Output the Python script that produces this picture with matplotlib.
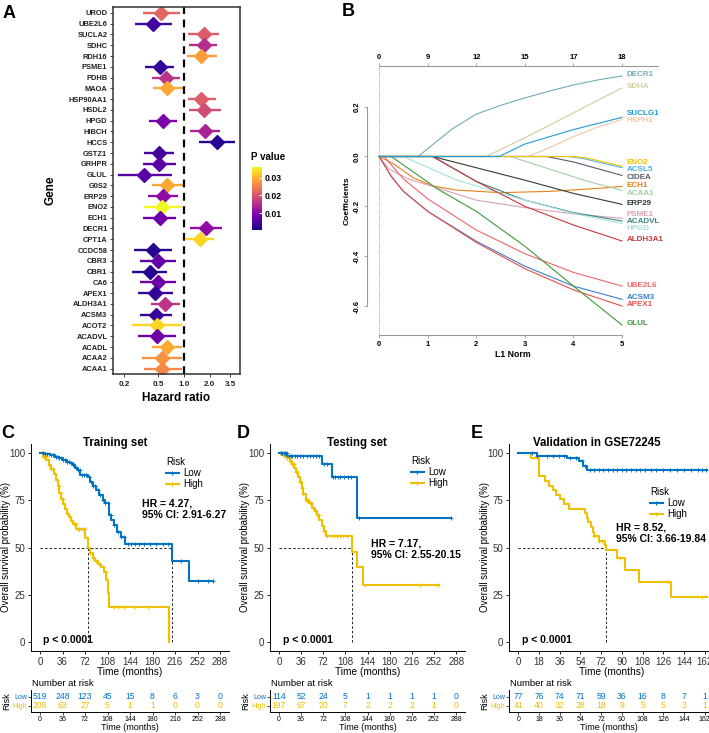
import numpy as np
import matplotlib
matplotlib.use("Agg")
import matplotlib.pyplot as plt
from matplotlib import cm, colors
from matplotlib.lines import Line2D

plt.rcParams['font.family'] = ['Liberation Sans', 'DejaVu Sans']

W, H = 709, 733

# ---------------- panel A: univariate cox (forest plot) ----------------
genes = ['UROD', 'UBE2L6', 'SUCLA2', 'SDHC', 'RDH16', 'PSME1', 'PDHB', 'MAOA',
         'HSP90AA1', 'HSDL2', 'HPGD', 'HIBCH', 'HCCS', 'GSTZ1', 'GRHPR', 'GLUL',
         'G0S2', 'ERP29', 'ENO2', 'ECH1', 'DECR1', 'CPT1A', 'CCDC58', 'CBR3',
         'CBR1', 'CA6', 'APEX1', 'ALDH3A1', 'ACSM3', 'ACOT2', 'ACADVL', 'ACADL',
         'ACAA2', 'ACAA1']
hr = [0.54, 0.44, 1.70, 1.70, 1.58, 0.52, 0.61, 0.64, 1.61, 1.73, 0.57, 1.76,
      2.44, 0.51, 0.51, 0.345, 0.63, 0.57, 0.56, 0.52, 1.80, 1.53, 0.43, 0.50,
      0.40, 0.50, 0.46, 0.60, 0.47, 0.49, 0.49, 0.63, 0.55, 0.56]
hr_lo = [0.33, 0.27, 1.12, 1.15, 1.08, 0.35, 0.42, 0.44, 1.11, 1.14, 0.39, 1.18,
         1.51, 0.34, 0.33, 0.168, 0.42, 0.38, 0.34, 0.33, 1.18, 1.05, 0.26, 0.31,
         0.25, 0.31, 0.29, 0.41, 0.31, 0.25, 0.29, 0.42, 0.32, 0.34]
hr_hi = [0.90, 0.72, 2.55, 2.46, 2.42, 0.76, 0.90, 0.965, 2.37, 2.70, 0.83, 2.64,
         3.94, 0.76, 0.81, 0.73, 0.965, 0.86, 0.955, 0.82, 2.77, 2.23, 0.72, 0.81,
         0.64, 0.80, 0.74, 0.89, 0.72, 0.94, 0.82, 0.95, 0.94, 0.94]
pval = [0.022, 0.004, 0.021, 0.015, 0.028, 0.003, 0.016, 0.029, 0.021, 0.019,
        0.009, 0.014, 0.002, 0.004, 0.006, 0.006, 0.029, 0.011, 0.036, 0.008,
        0.011, 0.033, 0.002, 0.007, 0.002, 0.008, 0.003, 0.016, 0.003, 0.033,
        0.008, 0.029, 0.027, 0.026]
hr_ticks = [0.2, 0.5, 1.0, 2.0, 3.5]
p_ticks = [0.01, 0.02, 0.03]

# ---------------- panel B: lasso coefficient paths ----------------
lasso_genes = ['DECR1', 'SDHA', 'HSPH1', 'ACSL5', 'CIDEA', 'ECH1', 'ACAA1',
               'ERP29', 'PSME1', 'ACADVL', 'HPGD', 'ALDH3A1', 'UBE2L6', 'ACSM3',
               'APEX1', 'GLUL', 'ENO2', 'SUCLG1']
lasso_l1 = [
    [0, 0.8, 1.5, 2, 2.5, 3, 3.5, 4, 4.5, 5],
    [0, 2.2, 3, 4, 5],
    [0, 3.07, 3.5, 4, 4.5, 5],
    [0, 3.9, 4.2, 5],
    [0, 3.45, 4, 5],
    [0, 0.3, 0.7, 1.1, 1.6, 2.5, 3.5, 4.5, 5],
    [0, 2.7, 3.5, 4.3, 5],
    [0, 1.1, 2, 3, 4, 5],
    [0, 0.2, 0.6, 1.1, 2, 3, 4, 5],
    [0, 1.1, 2, 3, 4, 5],
    [0, 0.5, 1.6, 3, 4, 5],
    [0, 1.1, 2, 3, 4, 5],
    [0, 0.1, 0.5, 1, 2, 3, 4, 5],
    [0, 0.25, 0.5, 1, 2, 3, 4, 5],
    [0, 0.25, 0.5, 1, 2, 3, 4, 5],
    [0, 0.25, 1.2, 2, 3, 4, 5],
    [0, 4.0, 4.25, 5],
    [0, 2.47, 3, 4, 5],
]
lasso_coef = [
    [0, 0, 0.11, 0.17, 0.205, 0.235, 0.262, 0.287, 0.307, 0.323],
    [0, 0, 0.075, 0.175, 0.275],
    [0, 0, 0.035, 0.08, 0.118, 0.149],
    [0, 0, -0.008, -0.045],
    [0, 0, -0.022, -0.076],
    [0, -0.03, -0.085, -0.118, -0.135, -0.145, -0.14, -0.128, -0.12],
    [0, 0, -0.05, -0.1, -0.136],
    [0, 0, -0.045, -0.095, -0.148, -0.192],
    [0, -0.05, -0.09, -0.12, -0.175, -0.205, -0.23, -0.248],
    [0, 0, -0.1, -0.175, -0.225, -0.259],
    [0, 0, -0.095, -0.175, -0.228, -0.269],
    [0, 0, -0.1, -0.2, -0.275, -0.339],
    [0, 0, -0.09, -0.17, -0.295, -0.39, -0.465, -0.52],
    [0, -0.08, -0.14, -0.22, -0.34, -0.44, -0.52, -0.573],
    [0, -0.08, -0.14, -0.22, -0.345, -0.45, -0.535, -0.60],
    [0, 0, -0.13, -0.22, -0.36, -0.52, -0.676],
    [0, 0, -0.005, -0.039],
    [0, 0, 0.05, 0.108, 0.157],
]
lasso_colors = ['#72adbb', '#d2cb9e', '#f6c6a4', '#47b3e0', '#5a5a68', '#e8801a',
                '#a3cfa3', '#2f3f2f', '#d9a0b0', '#3f8585', '#a6dfe0', '#c8383c',
                '#f0646c', '#3c7fd0', '#e8504a', '#3f9a3a', '#f6c000', '#1f9bd1']
# label heights (coefficient units) as printed at the right margin
lasso_label_y = [0.328, 0.282, 0.144, -0.052, -0.084, -0.116, -0.15, -0.188,
                 -0.232, -0.26, -0.288, -0.332, -0.516, -0.566, -0.594, -0.668,
                 -0.024, 0.172]
df_labels = ['0', '9', '12', '15', '17', '18']

# ---------------- panels C-E: Kaplan-Meier ----------------
LOW, HIGH = '#0073C2', '#EFC000'

c_low_t = [0, 8, 16, 24, 30, 37, 43, 48, 52, 56, 60, 64.5, 76, 80.5, 85, 90, 95, 100,
           104, 110, 114, 118, 123, 129, 136, 210.6, 238, 276.7]
c_low_s = [100, 99.6, 99.1, 98.3, 97.3, 96.5, 95.6, 94.7, 93.8, 92.5, 91.2, 88.5, 87.3,
           85.0, 82.5, 80.5, 78.0, 75.2, 73.8, 67.3, 64.5, 62.0, 58.4, 55.4, 51.9,
           42.8, 32.4, 32.4]
c_high_t = [0, 5, 10, 14, 18, 22, 25, 28, 31, 34, 37, 40, 43, 46, 49, 52, 58, 72.5, 76,
            80, 84, 88, 93, 97, 103, 106, 108.5, 110, 206.9]
c_high_s = [100, 98, 96.5, 94, 91.5, 89, 86, 82.5, 79, 76, 73, 70.5, 68, 66, 64, 62.5,
            60, 55, 49.5, 47, 44.5, 43, 41, 39.5, 37, 32.5, 26, 18.6, 0]
c_low_cens = [4, 8, 11, 14, 17, 20, 23, 26, 29, 31, 34, 37, 40, 43, 46, 49, 52, 55, 58,
              61, 64, 67, 70, 74, 78, 81, 85, 88, 92, 96, 100, 104, 108, 113, 118, 124,
              130, 134, 140, 146, 152, 158, 166, 176, 186, 196, 205, 226, 252, 268, 276]
c_high_cens = [3, 6, 9, 12, 15, 18, 21, 24, 27, 30, 33, 36, 39, 42, 45, 48, 51, 54, 57,
               60, 63, 66, 69, 72, 75, 80, 85, 90, 95, 100, 105, 118, 125, 134, 150, 172]
c_med = [76, 210.6]
c_low_n = [519, 248, 123, 45, 15, 8, 6, 3, 0]
c_high_n = [206, 63, 27, 5, 1, 1, 0, 0, 0]

d_low_t = [0, 14, 70.5, 85.8, 126.8, 279.8]
d_low_s = [100, 98.5, 94.5, 87.6, 65.5, 65.5]
d_high_t = [0, 6, 10, 14, 18, 22, 25, 28, 31, 34, 37, 40, 44, 49, 54, 58, 62, 66, 70, 73,
            77, 118.6, 126.8, 136, 260.7]
d_high_s = [100, 99.3, 98.5, 97.6, 96.2, 94.6, 92.5, 90.2, 87.5, 84.6, 81.5, 78.4, 75.5,
            73.4, 71.2, 69.2, 67.2, 64.8, 61.5, 58.8, 56.0, 47.4, 39.5, 30.1, 30.1]
d_low_cens = [3, 5, 8, 10, 13, 16, 19, 22, 26, 30, 35, 40, 45, 50, 55, 60, 66, 73, 78,
              88, 92, 96, 100, 106, 112, 118, 130, 279]
d_high_cens = [2, 4, 6, 8, 10, 12, 14, 16, 18, 20, 22, 24, 26, 28, 30, 32, 34, 36, 38, 40,
               42, 44, 46, 48, 50, 53, 56, 59, 62, 65, 68, 71, 74, 78, 90, 95, 100, 105,
               110, 140, 230, 259]
d_med = [118.6]
d_low_n = [114, 52, 24, 5, 1, 1, 1, 1, 0]
d_high_n = [197, 67, 20, 7, 2, 2, 2, 1, 0]

e_low_t = [0, 16, 42, 53, 56, 60, 164]
e_low_s = [100, 98.7, 97.3, 95.9, 93.2, 91.2, 91.2]
e_high_t = [0, 11, 18, 23, 27, 30, 33, 36, 40, 44, 58, 60, 61, 63, 64.5, 66, 70, 75, 76,
            86, 92.5, 105, 133, 164]
e_high_s = [100, 97.6, 87.8, 85.4, 82.9, 80.5, 78.0, 75.6, 73.2, 70.7, 68.3, 65.8, 63.4,
            61.0, 58.5, 56.1, 53.6, 51.2, 48.8, 44.2, 37.9, 31.7, 23.8, 23.8]
e_low_cens = [12, 16, 25, 30, 35, 40, 45, 50, 55, 58, 62, 66, 70, 74, 78, 82, 86, 90, 94,
              98, 102, 106, 110, 115, 120, 126, 132, 138, 144, 150, 156, 160, 163]
e_high_cens = [66, 70, 73, 88, 130, 160]
e_med = [76]
e_low_n = [77, 76, 74, 71, 59, 36, 16, 8, 7, 1]
e_high_n = [41, 40, 32, 28, 18, 9, 5, 5, 3, 1]

t_ticks_cd = [0, 36, 72, 108, 144, 180, 216, 252, 288]
t_ticks_e = [0, 18, 36, 54, 72, 90, 108, 126, 144, 162]

fig = plt.figure(figsize=(W / 100, H / 100), dpi=100)


def add_ax(x0, y0, x1, y1):
    return fig.add_axes([x0 / W, 1 - y1 / H, (x1 - x0) / W, (y1 - y0) / H])


def ftext(x, y, s, **kw):
    return fig.text(x / W, 1 - y / H, s, **kw)


# ================= A =================
axA = add_ax(113, 7, 240, 374)
norm = colors.Normalize(0.0005, 0.036)
cmap = plt.get_cmap('plasma')
for i in range(len(genes)):
    col = cmap(norm(pval[i]))
    axA.plot([hr_lo[i], hr_hi[i]], [i, i], color=col, lw=1.7, solid_capstyle='butt')
    axA.plot(hr[i], i, marker='D', ms=6.8, color=col, mec=col)
axA.axvline(1.0, color='black', lw=1.6, ls=(0, (3.5, 2.5)))
axA.set_xscale('log')
axA.set_xlim(0.148, 4.55)
axA.set_ylim(33.5, -0.55)
axA.set_xticks(hr_ticks)
axA.set_xticklabels(['0.2', '0.5', '1.0', '2.0', '3.5'], fontweight='bold', fontsize=5.8)
axA.minorticks_off()
axA.set_yticks(range(len(genes)))
axA.set_yticklabels(genes, fontweight='bold', fontsize=5.4)
axA.tick_params(length=2.5, width=0.6, pad=1.5, colors='#222222')
axA.tick_params(axis='x', pad=2.5)
for s in axA.spines.values():
    s.set_color('#333333')
    s.set_linewidth(1.1)
ftext(50, 190, 'Gene', rotation=90, fontweight='bold', fontsize=8.5, ha='center', va='center')
ftext(176, 398, 'Hazard ratio', fontweight='bold', fontsize=8.5, ha='center', va='center')
ftext(9, 13, 'A', fontweight='bold', fontsize=13, ha='center', va='center')

cax = add_ax(252, 167, 262, 230)
sm = cm.ScalarMappable(norm=norm, cmap=cmap)
cb = fig.colorbar(sm, cax=cax, ticks=p_ticks)
cb.outline.set_visible(False)
cb.ax.tick_params(length=2.5, width=0.7, color='white', direction='in', pad=2)
cb.ax.set_yticklabels(['0.01', '0.02', '0.03'], fontweight='bold', fontsize=6.3)
ftext(251, 157, 'P value', fontweight='bold', fontsize=7, ha='left', va='center')

# ================= B =================
axB = add_ax(367, 66, 658, 335)
for l1, cf, col in zip(lasso_l1, lasso_coef, lasso_colors):
    axB.plot(l1, cf, color=col, lw=0.8)
for g, ly, col in zip(lasso_genes, lasso_label_y, lasso_colors):
    axB.text(5.1, ly, g, color=col, fontweight='bold', fontsize=5.8, va='center',
             ha='left', clip_on=False)
axB.axvline(0, color='#777777', lw=0.6, ls=(0, (1, 1.5)))
axB.set_xlim(-0.25, 5.74)
axB.set_ylim(-0.716, 0.363)
axB.spines['right'].set_visible(False)
axB.spines['left'].set_bounds(-0.6, 0.2)
axB.spines['bottom'].set_bounds(0, 5)
axB.spines['top'].set_bounds(0, 5.74)
for s in axB.spines.values():
    s.set_color('#999999')
    s.set_linewidth(0.8)
axB.set_xticks(range(6))
axB.set_xticklabels([str(v) for v in range(6)], fontweight='bold', fontsize=5.5)
axB.set_yticks([-0.6, -0.4, -0.2, 0.0, 0.2])
axB.set_yticklabels(['-0.6', '-0.4', '-0.2', '0.0', '0.2'], fontweight='bold',
                    fontsize=5.5, rotation=90, va='center')
axB.tick_params(length=2.5, width=0.6, color='#999999', pad=2)
axB.set_xlabel('L1 Norm', fontweight='bold', fontsize=6.3, labelpad=1)
axB.set_ylabel('Coefficients', fontweight='bold', fontsize=6, labelpad=2)
axT = axB.twiny()
axT.set_xlim(axB.get_xlim())
axT.set_xticks(range(6))
axT.set_xticklabels(df_labels, fontweight='bold', fontsize=5.5)
axT.tick_params(length=2.5, width=0.6, color='#999999', pad=1)
for s in axT.spines.values():
    s.set_visible(False)
ftext(348, 12, 'B', fontweight='bold', fontsize=13, ha='center', va='center')


# ================= C-E =================
def surv_at(t_arr, s_arr, t):
    idx = np.searchsorted(t_arr, t, side='right') - 1
    return np.asarray(s_arr)[idx]


def km_panel(x0, x1, xlim, ticks, low_t, low_s, high_t, high_s, low_c, high_c, med,
             low_n, high_n, title, title_x, hr_lines, hr_xy, p_x, leg_xy):
    ax = add_ax(x0, 444, x1, 651)
    for tt, ss, cc, col in [(high_t, high_s, high_c, HIGH), (low_t, low_s, low_c, LOW)]:
        ax.step(tt, ss, where='post', color=col, lw=1.5, zorder=3)
        cc = [c for c in cc if c <= tt[-1]]
        ax.plot(cc, surv_at(tt, ss, cc), ls='none', marker='+', ms=3.5, mew=0.7,
                color=col, zorder=3)
    ax.plot([0, max(med)], [50, 50], color='black', lw=0.6, ls=(0, (3, 2.5)), zorder=2)
    for m in med:
        ax.plot([m, m], [0, 50], color='black', lw=0.6, ls=(0, (3, 2.5)), zorder=2)
    ax.set_xlim(*xlim)
    ax.set_ylim(-5, 105)
    ax.set_xticks(ticks)
    ax.set_yticks([0, 25, 50, 75, 100])
    ax.tick_params(length=2.5, width=0.6, labelsize=7, labelcolor='#333333', pad=1.5)
    for s in ['top', 'right']:
        ax.spines[s].set_visible(False)
    for s in ['left', 'bottom']:
        ax.spines[s].set_linewidth(0.7)
    ax.set_xlabel('Time (months)', fontsize=7.3, labelpad=0.5)
    ax.set_ylabel('Overall survival probability (%)', fontsize=6.9)
    ax.yaxis.set_label_coords(-19.5 / (x1 - x0), 0.5)
    ftext(title_x, 443, title, fontweight='bold', fontsize=8.3, ha='center', va='center')
    ftext(hr_xy[0], hr_xy[1], hr_lines[0], fontweight='bold', fontsize=7.5, va='center')
    ftext(hr_xy[0], hr_xy[1] + 11, hr_lines[1], fontweight='bold', fontsize=7.5, va='center')
    ftext(p_x, 640, 'p < 0.0001', fontweight='bold', fontsize=7.5, va='center')
    handles = [Line2D([0], [0], color=LOW, lw=1.5, marker='+', ms=3.5, mew=0.8),
               Line2D([0], [0], color=HIGH, lw=1.5, marker='+', ms=3.5, mew=0.8)]
    leg = ax.legend(handles, ['Low', 'High'], title='Risk', loc='upper left',
                    bbox_to_anchor=(leg_xy[0] / W, 1 - leg_xy[1] / H),
                    bbox_transform=fig.transFigure, frameon=False, fontsize=7,
                    title_fontsize=7, handlelength=1.3, handletextpad=0.5,
                    labelspacing=0.1, borderpad=0, borderaxespad=0)
    leg._legend_box.align = 'left'

    tax = add_ax(x0, 690, x1, 712)
    tax.set_xlim(*xlim)
    tax.set_ylim(0, 1)
    for t, a, b in zip(ticks, low_n, high_n):
        tax.text(t, 0.7, str(a), color=LOW, ha='center', va='center', fontsize=6.2)
        tax.text(t, 0.28, str(b), color=HIGH, ha='center', va='center', fontsize=6.2)
    tax.set_xticks(ticks)
    tax.set_xticklabels([str(t) for t in ticks], fontsize=5)
    tax.set_yticks([0.7, 0.28])
    tax.set_yticklabels(['Low', 'High'], fontsize=5)
    for lab, col in zip(tax.get_yticklabels(), [LOW, HIGH]):
        lab.set_color(col)
    tax.tick_params(length=2, width=0.5, pad=1)
    for s in ['top', 'right']:
        tax.spines[s].set_visible(False)
    for s in ['left', 'bottom']:
        tax.spines[s].set_linewidth(0.7)
    tax.set_ylabel('Risk', fontsize=6.5)
    tax.yaxis.set_label_coords(-19.5 / (x1 - x0), 0.5)
    ftext(x0 + 1, 684, 'Number at risk', fontsize=6.8, va='center')
    ftext((x0 + min(x1, W)) / 2, 727, 'Time (months)', fontsize=6.5, ha='center',
          va='center')
    return ax


km_panel(31, 229, (-14.4, 302.4), t_ticks_cd, c_low_t, c_low_s, c_high_t, c_high_s,
         c_low_cens, c_high_cens, c_med, c_low_n, c_high_n, 'Training set', 115,
         ['HR = 4.27,', '95% CI: 2.91-6.27'], (142, 504), 43, (166, 457))
km_panel(270, 465, (-14.4, 302.4), t_ticks_cd, d_low_t, d_low_s, d_high_t, d_high_s,
         d_low_cens, d_high_cens, d_med, d_low_n, d_high_n, 'Testing set', 357,
         ['HR = 7.17,', '95% CI: 2.55-20.15'], (371, 544), 283, (411, 456))
km_panel(509, 714, (-8.1, 170.1), t_ticks_e, e_low_t, e_low_s, e_high_t, e_high_s,
         e_low_cens, e_high_cens, e_med, e_low_n, e_high_n, 'Validation in GSE72245', 597,
         ['HR = 8.52,', '95% CI: 3.66-19.84'], (616, 528), 522, (650, 487))

for letter, lx in [('C', 8), ('D', 243), ('E', 477)]:
    ftext(lx, 434, letter, fontweight='bold', fontsize=13, ha='center', va='center')

fig.savefig('out.png', dpi=100)
